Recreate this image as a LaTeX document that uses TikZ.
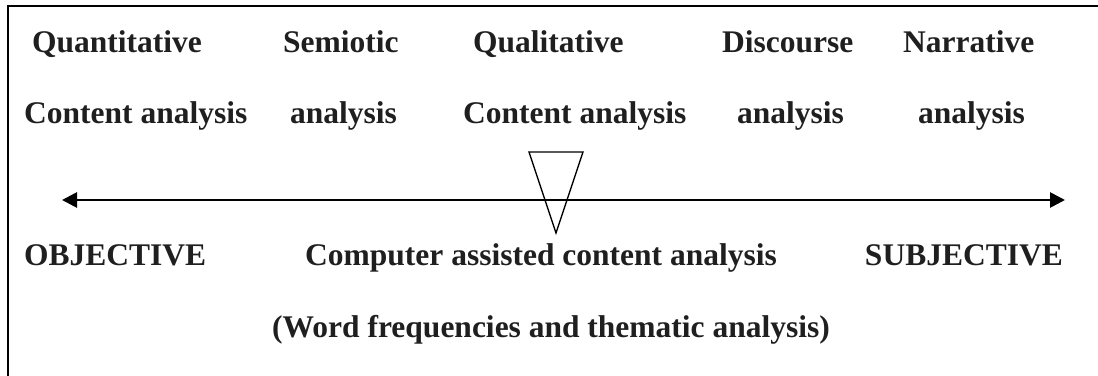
\documentclass[tikz,border=0pt]{standalone}
\usepackage{fontspec}
\setmainfont{Liberation Serif}
\usetikzlibrary{arrows.meta}
\tikzset{
  lbl/.style={anchor=base west, inner sep=0pt, text=black!88,
    font=\bfseries\fontsize{31.5}{36}\selectfont},
  frameline/.style={line width=2.8pt, line cap=rect},
  axisline/.style={line width=2.7pt,
    {Triangle[length=15pt,width=15pt]}-{Triangle[length=15pt,width=15pt]}},
  marker/.style={line width=1.3pt, line join=miter}
}
\begin{document}
\begin{tikzpicture}[x=1pt,y=-1pt]
\useasboundingbox (0,0) rectangle (1098,375);

% open frame: top and left edges only
\coordinate (fbl) at (8,376);
\coordinate (ftl) at (8,6);
\coordinate (ftr) at (1099,6);
\draw[frameline] (fbl) -- (ftl) -- (ftr);

% methods, first line
\node[lbl] (q1) at (32,52)  {Quantitative};
\node[lbl] (s1) at (283,52) {Semiotic};
\node[lbl] (l1) at (473,52) {Qualitative};
\node[lbl] (d1) at (722,52) {Discourse};
\node[lbl] (n1) at (903,52) {Narrative};

% methods, second line
\node[lbl] (q2) at (24,123)  {Content analysis};
\node[lbl] (s2) at (290,123) {analysis};
\node[lbl] (l2) at (463,123) {Content analysis};
\node[lbl] (d2) at (737,123) {analysis};
\node[lbl] (n2) at (918,123) {analysis};

% objective -- subjective scale
\coordinate (left) at (62,200);
\coordinate (right) at (1065,200);
\draw[axisline] (left) -- (right);

% position marker
\coordinate (ta) at (529,152);
\coordinate (tb) at (583,152);
\coordinate (tc) at (556,233);
\draw[marker] (ta) -- (tb) -- (tc) -- cycle;

% scale ends and caption
\node[lbl] (obj) at (24,265)  {OBJECTIVE};
\node[lbl] (cac) at (305,265) {Computer assisted content analysis};
\node[lbl, anchor=base east] (sub) at (1063,265) {SUBJECTIVE};
\node[lbl] (wfq) at (272,337) {(Word frequencies and thematic analysis)};
\end{tikzpicture}
\end{document}
